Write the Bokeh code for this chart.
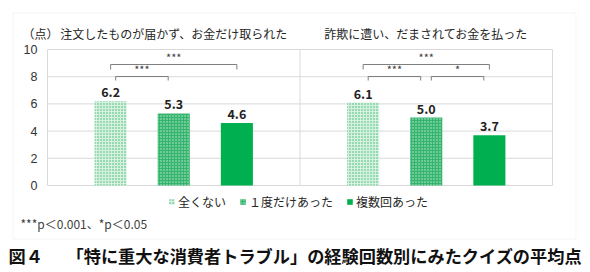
from bokeh.plotting import figure
from bokeh.models import (Range1d, ColumnDataSource, Label, LabelSet, Legend, LegendItem,
                          BoxAnnotation, FixedTicker, LinearAxis)
from bokeh.core.properties import value
from bokeh.embed import file_html
from bokeh.resources import INLINE

# ---- data ----
groups = ["注文したものが届かず、お金だけ取られた", "詐欺に遭い、だまされてお金を払った"]
series = ["全くない", "１度だけあった", "複数回あった"]
values_none = [6.2, 6.1]
values_once = [5.3, 5.0]
values_multi = [4.6, 3.7]
y_ticks = [0, 2, 4, 6, 8, 10]
# significance brackets: (group index, from series, to series, label, level)
brackets = [
    (0, 0, 2, "***", "outer"),
    (0, 0, 1, "***", "inner"),
    (1, 0, 2, "***", "outer"),
    (1, 0, 1, "***", "inner"),
    (1, 1, 2, "*", "inner"),
]
unit_label = "（点）"
footnote = "***p＜0.001、*p＜0.05"
caption_no = "図４"
caption = "「特に重大な消費者トラブル」の経験回数別にみたクイズの平均点"

# ---- layout (pixels of the 590x272 canvas) ----
W, H = 590, 272
PL, PR, PT, PB = 47, 552, 49, 185          # plot area edges
XU = (PR - PL) / 2.0                       # px per group unit
YU = (PB - PT) / 10.0                      # px per y unit
def dx(px): return (px - PL) / XU
def dy(py): return (PB - py) / YU

JP = "Noto Sans CJK JP"
offsets = [-0.25, 0.0, 0.25]
bar_w = 0.127
grid_c = "#d9d9d9"
styles = [
    dict(fill_color="#d6f1e0", hatch_pattern="dot", hatch_color="#35b56c", hatch_scale=3, hatch_weight=2),
    dict(fill_color="#34b46c", hatch_pattern="dot", hatch_color="#c4ead3", hatch_scale=3, hatch_weight=2),
    dict(fill_color="#00b050", hatch_pattern=" "),
]

p = figure(width=W, height=H, output_backend="svg", toolbar_location=None,
           x_range=Range1d(dx(0), dx(W)), y_range=Range1d(dy(H), dy(0)),
           x_axis_type=None, y_axis_type=None,
           min_border=0, min_border_left=0, min_border_right=0,
           min_border_top=0, min_border_bottom=0)
p.grid.visible = False
p.outline_line_color = None
p.background_fill_color = "white"
p.border_fill_color = "white"

# y axis fixed at x=0 inside the canvas
ax = LinearAxis(fixed_location=0, ticker=FixedTicker(ticks=y_ticks))
ax.axis_line_color = None
ax.major_tick_line_color = None
ax.minor_tick_line_color = None
ax.major_tick_out = 0
ax.major_tick_in = 0
ax.major_label_standoff = 10
ax.major_label_text_font = "Liberation Sans"
ax.major_label_text_font_size = "12.5px"
ax.major_label_text_color = "#333333"
p.add_layout(ax, "left")

# outer border box
p.add_layout(BoxAnnotation(left=dx(12.5), right=dx(575.5), top=dy(12.5), bottom=dy(238.5),
                           fill_alpha=0, line_color=grid_c, line_width=1, level="underlay"))

# grid lines (horizontal at ticks, vertical at group edges)
ng = len(groups)
p.segment(x0=[0] * len(y_ticks), x1=[ng] * len(y_ticks), y0=y_ticks, y1=y_ticks,
          line_color=grid_c, line_width=1)
p.segment(x0=list(range(ng + 1)), x1=list(range(ng + 1)), y0=[0] * (ng + 1),
          y1=[y_ticks[-1]] * (ng + 1), line_color=grid_c, line_width=1)

all_vals = [values_none, values_once, values_multi]
renderers = []
lab_x, lab_y, lab_t = [], [], []
for s, vals in enumerate(all_vals):
    xs = [g + 0.5 + offsets[s] for g in range(ng)]
    src = ColumnDataSource(dict(x=xs, top=vals))
    r = p.vbar(x="x", top="top", width=bar_w, bottom=0, source=src, line_color=None, **styles[s])
    renderers.append(r)
    lab_x += xs
    lab_y += vals
    lab_t += [f"{v:.1f}" for v in vals]

lsrc = ColumnDataSource(dict(x=lab_x, y=lab_y, t=lab_t))
p.add_layout(LabelSet(x="x", y="y", text="t", source=lsrc, y_offset=4,
                      text_align="center", text_baseline="bottom",
                      text_font=value(JP), text_font_style="bold",
                      text_font_size=value("12.5px"), text_color="#222222"))

# significance brackets
bxs, bys = [], []
for g, i, j, txt, lvl in brackets:
    ci = g + 0.5 + offsets[i]
    cj = g + 0.5 + offsets[j]
    if lvl == "outer":
        x0, x1, yl, yt = ci, cj, dy(64), dy(69)
    else:
        x0, x1, yl, yt = ci + 0.02, cj - 0.022, dy(76), dy(80)
    bxs.append([x0, x0, x1, x1])
    bys.append([yt, yl, yl, yt])
    p.add_layout(Label(x=(x0 + x1) / 2, y=yl, y_offset=0, text=txt, text_align="center",
                       text_baseline="bottom", text_font=JP, text_font_size="11px",
                       text_color="#404040"))
p.multi_line(xs=bxs, ys=bys, line_color="#7f7f7f", line_width=1)

# titles
for g, name in enumerate(groups):
    p.add_layout(Label(x=g + 0.5, y=dy(33), text=name, text_align="center",
                       text_baseline="middle", text_font=JP, text_font_size="12px",
                       text_color="#262626"))
p.add_layout(Label(x=dx(22), y=dy(33), text=unit_label, text_align="left",
                   text_baseline="middle", text_font=JP, text_font_size="12px",
                   text_color="#262626"))
p.add_layout(Label(x=dx(20), y=dy(223), text=footnote, text_align="left",
                   text_baseline="middle", text_font=JP, text_font_size="12px",
                   text_color="#404040"))
p.add_layout(Label(x=dx(8), y=dy(255), text=caption_no, text_align="left",
                   text_baseline="middle", text_font=JP, text_font_size="17.2px",
                   text_font_style="bold", text_color="#111111"))
p.add_layout(Label(x=dx(66), y=dy(255), text=caption, text_align="left",
                   text_baseline="middle", text_font=JP, text_font_size="17.2px",
                   text_font_style="bold", text_color="#111111"))

legend = Legend(items=[LegendItem(label=series[s], renderers=[renderers[s]]) for s in range(3)],
                orientation="horizontal", location=(168, H - 210),
                glyph_width=7, glyph_height=7, label_standoff=3, spacing=13,
                padding=0, margin=0, label_height=14, label_text_font=JP,
                label_text_font_size="12px", label_text_color="#262626",
                border_line_color=None, background_fill_alpha=0)
p.add_layout(legend)

open("out.html", "w").write(file_html(p, INLINE))
